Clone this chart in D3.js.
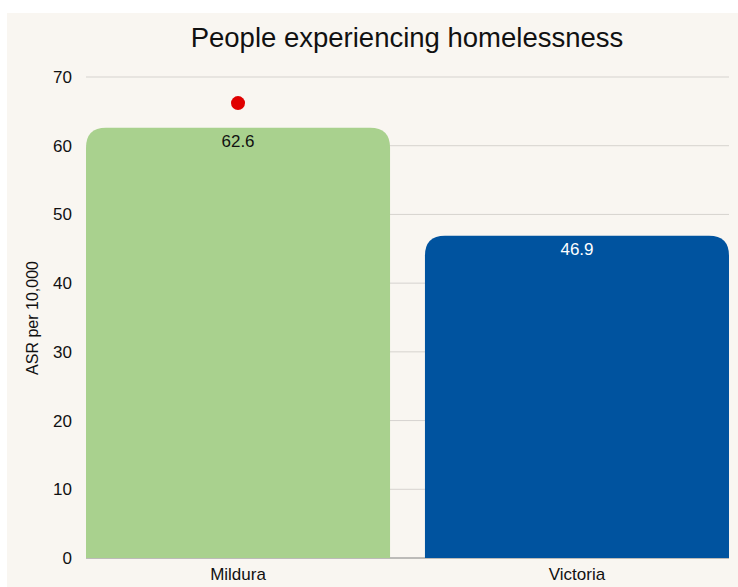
<!DOCTYPE html>
<html><head><meta charset="utf-8">
<script src="https://cdn.jsdelivr.net/npm/d3@7"></script>
<style>body{margin:0;background:#fff;}svg{display:block;font-family:"Liberation Sans",Arial,sans-serif;}</style>
</head><body>
<svg id="c" width="738" height="587"></svg>
<script>
const categories = ["Mildura", "Victoria"];
const values = [62.6, 46.9];
const markerValues = [66.2, null];
const barColors = ["#a9d18e", "#00539f"];
const labelColors = ["#111111", "#ffffff"];
const yTicks = [0, 10, 20, 30, 40, 50, 60, 70];
const title = "People experiencing homelessness";
const yTitle = "ASR per 10,000";

const svg = d3.select("#c");
svg.append("rect").attr("x", 7).attr("y", 13).attr("width", 731).attr("height", 574).attr("fill", "#f9f6f1");

const x = d3.scaleBand().domain(categories).range([86, 729]).paddingInner(0.103).paddingOuter(0);
const y = d3.scaleLinear().domain([0, 70]).range([558, 77]);

// gridlines
svg.append("g").selectAll("line").data(yTicks.filter(d => d > 0)).join("line")
  .attr("x1", 86).attr("x2", 729).attr("y1", d => y(d)).attr("y2", d => y(d))
  .attr("stroke", "#d6d3cf").attr("stroke-width", 1);

// baseline
svg.append("line").attr("x1", 86).attr("x2", 729).attr("y1", y(0)).attr("y2", y(0))
  .attr("stroke", "#808080").attr("stroke-width", 1);

// y tick labels via axis
const yAxis = svg.append("g").attr("transform", "translate(76,0)")
  .call(d3.axisLeft(y).tickValues(yTicks).tickSize(0).tickPadding(4));
yAxis.select(".domain").remove();
yAxis.selectAll("text").attr("font-size", 17).attr("fill", "#111").attr("font-family", "Liberation Sans, Arial, sans-serif");

// bars with rounded top corners
const r = 20;
function barPath(x0, w, yTop, yBot) {
  return `M${x0},${yBot} L${x0},${yTop + r} Q${x0},${yTop} ${x0 + r},${yTop} L${x0 + w - r},${yTop} Q${x0 + w},${yTop} ${x0 + w},${yTop + r} L${x0 + w},${yBot} Z`;
}
svg.append("g").selectAll("path").data(values).join("path")
  .attr("d", (d, i) => barPath(x(categories[i]), x.bandwidth(), y(d), y(0)))
  .attr("fill", (d, i) => barColors[i]);

// value labels
svg.append("g").selectAll("text").data(values).join("text")
  .attr("x", (d, i) => x(categories[i]) + x.bandwidth() / 2)
  .attr("y", d => y(d) + 19)
  .attr("text-anchor", "middle").attr("font-size", 17)
  .attr("fill", (d, i) => labelColors[i])
  .text(d => d.toFixed(1));

// markers
svg.append("g").selectAll("circle").data(markerValues.map((v, i) => ({v, c: categories[i]})).filter(d => d.v != null)).join("circle")
  .attr("cx", d => x(d.c) + x.bandwidth() / 2)
  .attr("cy", d => y(d.v))
  .attr("r", 7).attr("fill", "#e00000");

// x labels
const xAxis = svg.append("g").attr("transform", `translate(0,${y(0)})`)
  .call(d3.axisBottom(x).tickSize(0).tickPadding(10));
xAxis.select(".domain").remove();
xAxis.selectAll("text").attr("font-size", 17).attr("fill", "#111").attr("font-family", "Liberation Sans, Arial, sans-serif");

// title
svg.append("text").attr("x", 407).attr("y", 47).attr("text-anchor", "middle")
  .attr("font-size", 27.5).attr("fill", "#111").text(title);

// y title
svg.append("text").attr("transform", "translate(38,318) rotate(-90)")
  .attr("text-anchor", "middle").attr("font-size", 16).attr("fill", "#111").text(yTitle);
</script>
</body></html>
